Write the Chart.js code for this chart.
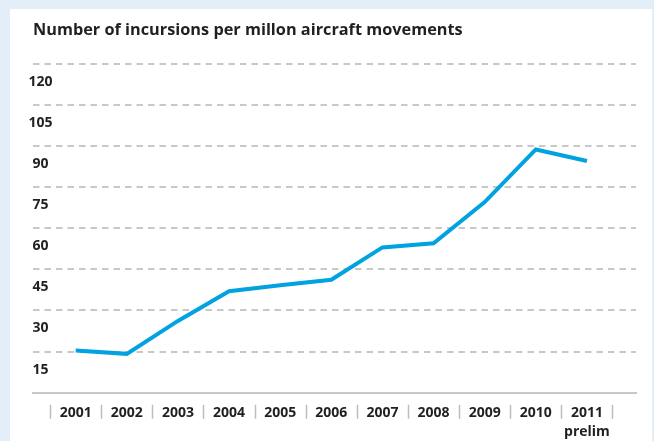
<!DOCTYPE html>
<html>
<head>
<meta charset="utf-8">
<script src="https://cdn.jsdelivr.net/npm/chart.js@4"></script>
<style>
  html, body { margin: 0; padding: 0; }
  body { width: 654px; height: 441px; background: #e4eef8; position: relative; overflow: hidden; }
  #panel { position: absolute; left: 10px; top: 9px; width: 642px; height: 432px; background: #fff; }
  #chart { display: block; }
</style>
</head>
<body>
<div id="panel"><canvas id="chart" width="642" height="432"></canvas></div>
<script>
const years = [2001, 2002, 2003, 2004, 2005, 2006, 2007, 2008, 2009, 2010, 2011];
const yearLabels = ['2001', '2002', '2003', '2004', '2005', '2006', '2007', '2008', '2009', '2010', ['2011', 'prelim']];
const incursionRates = [15.4, 14.2, 26.2, 37.0, 39.2, 41.2, 53.0, 54.5, 69.5, 88.7, 84.5];
const yTicks = [0, 15, 30, 45, 60, 75, 90, 105, 120];

const gridGrey = '#c8c8c8';
const textColor = '#231f20';

// little "|" marks between the year labels
const yearSeparators = {
    id: 'yearSeparators',
    afterDraw(chart) {
        const x = chart.scales.x;
        const ctx = chart.ctx;
        const top = chart.chartArea.bottom + 12;
        ctx.save();
        ctx.strokeStyle = '#bdbdbd';
        ctx.lineWidth = 1.5;
        const edges = years.map(y => y - 0.5).concat(years[years.length - 1] + 0.5);
        edges.forEach(v => {
            const px = Math.round(x.getPixelForValue(v)) + 0.5;
            ctx.beginPath();
            ctx.moveTo(px, top);
            ctx.lineTo(px, top + 14);
            ctx.stroke();
        });
        ctx.restore();
    }
};

new Chart(document.getElementById('chart'), {
    type: 'line',
    data: {
        datasets: [{
            data: years.map((y, i) => ({ x: y, y: incursionRates[i] })),
            borderColor: '#00a3e0',
            borderWidth: 4,
            pointRadius: 0,
            tension: 0,
            fill: false
        }]
    },
    options: {
        responsive: false,
        animation: false,
        layout: { padding: { left: 23, right: 16, top: 0, bottom: -11 } },
        plugins: {
            legend: { display: false },
            tooltip: { enabled: false },
            title: {
                display: true,
                text: 'Number of incursions per millon aircraft movements',
                align: 'start',
                color: textColor,
                font: { family: 'Open Sans', size: 16.3, weight: 'bold' },
                padding: { top: 12, bottom: 23 }
            }
        },
        scales: {
            x: {
                type: 'linear',
                min: 2000.165,
                max: 2011.96,
                afterBuildTicks: scale => { scale.ticks = years.map(v => ({ value: v })); },
                grid: { display: false, drawTicks: false },
                border: { display: true, color: gridGrey, width: 2 },
                ticks: {
                    padding: 10,
                    color: textColor,
                    font: { family: 'Open Sans', size: 14, weight: 'bold', lineHeight: 1.4 },
                    maxRotation: 0,
                    autoSkip: false,
                    callback: v => yearLabels[years.indexOf(v)]
                }
            },
            y: {
                min: 0,
                max: 120,
                afterBuildTicks: scale => { scale.ticks = yTicks.map(v => ({ value: v })); },
                grid: {
                    drawTicks: false,
                    lineWidth: 2,
                    color: c => (c.tick && c.tick.value === 0) ? 'rgba(0,0,0,0)' : gridGrey
                },
                border: { display: false, dash: [6.5, 5] },
                ticks: {
                    mirror: true,
                    crossAlign: 'center',
                    padding: -1.5,
                    labelOffset: 18,
                    color: textColor,
                    font: { family: 'Open Sans', size: 14, weight: 'bold' },
                    callback: v => v === 0 ? '' : v
                }
            }
        }
    },
    plugins: [yearSeparators]
});
</script>
</body>
</html>
